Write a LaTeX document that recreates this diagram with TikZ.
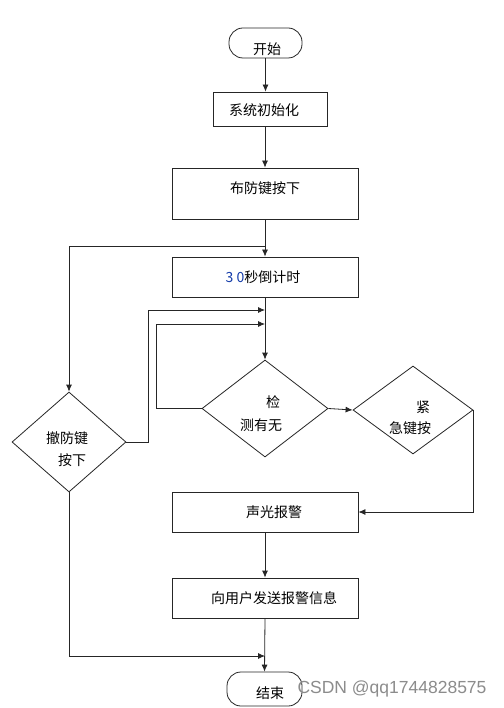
\documentclass[tikz,border=0pt]{standalone}
\usepackage{fontspec}
\setmainfont{Noto Sans CJK SC}
\newfontfamily\wmfont{Liberation Sans}
\usetikzlibrary{arrows.meta,shapes.geometric}
\definecolor{digit}{RGB}{20,60,170}
\begin{document}
\begin{tikzpicture}[x=1pt,y=-1pt,
  line/.style={draw=black!85, line width=0.8pt},
  arr/.style={line, -{Latex[length=7pt,width=6pt]}},
  box/.style={draw=black!85, line width=0.8pt, rectangle, inner sep=0pt},
  pill/.style={box, rounded corners=14pt},
  dia/.style={draw=black!85, line width=0.8pt, diamond, inner sep=0pt},
  txt/.style={font=\fontsize{14}{16}\selectfont, inner sep=0pt, text=black}]
\fill[white] (0,0) rectangle (503,708);
\useasboundingbox (0,0) rectangle (503,708);
% shapes
\node[pill, minimum width=73pt, minimum height=30pt] (start) at (265.5,43) {};
\node[box, minimum width=114pt, minimum height=34pt] (init) at (270,109) {};
\node[box, minimum width=186pt, minimum height=51pt] (arm) at (265,193.5) {};
\node[box, minimum width=186pt, minimum height=40pt] (count) at (265,277) {};
\node[dia, minimum width=126pt, minimum height=97pt] (detect) at (265,408.5) {};
\node[dia, minimum width=120pt, minimum height=88pt] (emerg) at (413,410) {};
\node[dia, minimum width=114pt, minimum height=100pt] (disarm) at (69,442) {};
\node[box, minimum width=186pt, minimum height=40pt] (alarm) at (265,512) {};
\node[box, minimum width=186pt, minimum height=40pt] (send) at (265,598) {};
\node[pill, minimum width=75pt, minimum height=34pt] (end) at (264.5,689) {};
% texts
\node[txt] (tstart) at (267,49) {开始};
\node[txt] (tinit) at (264,110) {系统初始化};
\node[txt] (tarm) at (265,188) {布防键按下};
\node[txt] (tcount) at (263,277) {\textcolor{digit}{3 0}秒倒计时};
\node[txt] (tdet1) at (273,402) {检};
\node[txt] (tdet2) at (261,425) {测有无};
\node[txt] (tem1) at (423,407) {紧};
\node[txt] (tem2) at (410,428) {急键按};
\node[txt] (tdis1) at (67,438) {撤防键};
\node[txt] (tdis2) at (72,460) {按下};
\node[txt] (talarm) at (274,512) {声光报警};
\node[txt] (tsend) at (274,598) {向用户发送报警信息};
\node[txt] (tend) at (270,693) {结束};
% connectors
\draw[arr] (start.south) -- (start.south |- init.north);
\draw[arr] (init.south -| arm.north) -- (arm.north);
\draw[arr] (arm.south) -- (count.north);
\coordinate (b1) at (265,246);
\draw[arr] (b1) -| (disarm.north);
\coordinate (in1) at (265,310);
\coordinate (in2) at (265,324);
\draw[arr] (count.south) -- (detect.north);
\draw[arr] (disarm.east) -- ++(22,0) |- (in1);
\draw[arr] (detect.west) -- ++(-45,0) |- (in2);
\draw[arr] (detect.east) -- (emerg.west);
\draw[arr] (emerg.east) |- (alarm.east);
\draw[arr] (alarm.south) -- (send.north);
\draw[arr] (send.south) -- (end.north);
\coordinate (in3) at (265,656);
\draw[arr] (disarm.south) |- (in3);
% watermark
\node[inner sep=0pt, text=black!45, font=\wmfont\fontsize{17.5}{20}\selectfont] (wm) at (392,689) {CSDN @qq1744828575};
\end{tikzpicture}
\end{document}
